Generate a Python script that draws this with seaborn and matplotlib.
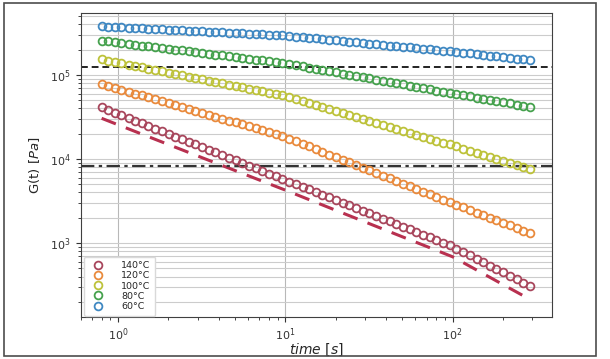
import pandas as pd
import matplotlib
matplotlib.use("Agg")
import matplotlib.pyplot as plt
import seaborn as sns
from matplotlib.patches import Rectangle

# time axis of the relaxation test [s]
time_s = [0.80, 0.877, 0.962, 1.05, 1.16, 1.27, 1.39, 1.52, 1.67, 1.83, 2.01, 2.20, 2.42,
          2.65, 2.90, 3.18, 3.49, 3.83, 4.20, 4.60, 5.05, 5.53, 6.07, 6.65, 7.30, 8.00,
          8.77, 9.62, 10.5, 11.6, 12.7, 13.9, 15.2, 16.7, 18.3, 20.1, 22.0, 24.2, 26.5,
          29.0, 31.8, 34.9, 38.3, 42.0, 46.0, 50.5, 55.3, 60.7, 66.5, 73.0, 80.0,
          87.7, 96.2, 105, 116, 127, 139, 152, 167, 183, 201, 220, 242, 265, 290]

# G(t) in kPa, one list per temperature
g_140 = [41.2, 38.3, 35.6, 33.1, 30.8, 28.7, 26.7, 24.8, 23.0, 21.4, 19.9, 18.5, 17.2,
         16.0, 14.9, 13.9, 12.9, 12.0, 11.1, 10.4, 9.65, 8.97, 8.34, 7.76, 7.21, 6.71,
         6.24, 5.80, 5.39, 5.01, 4.66, 4.34, 4.03, 3.75, 3.49, 3.24, 3.02, 2.81, 2.61,
         2.43, 2.26, 2.10, 1.95, 1.81, 1.69, 1.57, 1.46, 1.36, 1.26, 1.17, 1.09,
         1.01, 0.941, 0.857, 0.781, 0.712, 0.648, 0.591, 0.538, 0.490, 0.447, 0.407,
         0.371, 0.338, 0.308]
g_120 = [78.2, 74.2, 70.4, 66.8, 63.4, 60.1, 57.0, 54.1, 51.3, 48.7, 46.2, 43.8, 41.6,
         39.4, 37.4, 35.5, 33.7, 31.9, 30.3, 28.7, 27.3, 25.9, 24.5, 23.3, 22.1, 20.9,
         19.9, 18.9, 17.5, 16.3, 15.2, 14.1, 13.1, 12.2, 11.3, 10.5, 9.78, 9.10, 8.46,
         7.87, 7.31, 6.80, 6.33, 5.88, 5.47, 5.09, 4.73, 4.40, 4.09, 3.80, 3.54,
         3.29, 3.06, 2.85, 2.66, 2.47, 2.30, 2.15, 2.00, 1.86, 1.73, 1.62, 1.51, 1.40, 1.31]
g_100 = [153.8, 148.3, 142.9, 137.8, 132.8, 128.0, 123.4, 119.0, 114.7, 110.6, 106.6,
         102.7, 99.0, 95.5, 92.0, 88.7, 85.5, 82.4, 79.5, 76.6, 73.8, 71.2, 68.6, 66.1,
         63.8, 61.5, 59.2, 57.1, 54.1, 51.3, 48.6, 46.1, 43.6, 41.4, 39.2, 37.1, 35.2,
         33.4, 31.6, 30.0, 28.4, 26.9, 25.5, 24.2, 22.9, 21.7, 20.6, 19.5, 18.5, 17.5,
         16.6, 15.7, 14.9, 14.1, 13.3, 12.5, 11.9, 11.2, 10.6, 10.0, 9.44, 8.91, 8.42,
         7.95, 7.51]
g_80 = [256.0, 250.3, 244.7, 239.3, 234.0, 228.8, 223.7, 218.7, 213.8, 209.1, 204.4,
        199.9, 195.4, 191.1, 186.8, 182.7, 178.6, 174.6, 170.8, 167.0, 163.2, 159.6,
        156.1, 152.6, 149.2, 145.9, 142.6, 139.5, 134.9, 130.6, 126.3, 122.2, 118.3,
        114.4, 110.7, 107.1, 103.6, 100.3, 97.0, 93.9, 90.8, 87.9, 85.0, 82.3, 79.6,
        77.0, 74.5, 72.1, 69.8, 67.5, 65.3, 63.2, 61.1, 59.2, 57.4, 55.6, 53.8, 52.2,
        50.5, 49.0, 47.4, 46.0, 44.5, 43.1, 41.8]
g_60 = [380.0, 376.5, 373.0, 369.6, 366.2, 362.9, 359.5, 356.2, 353.0, 349.7, 346.5,
        343.3, 340.2, 337.0, 333.9, 330.9, 327.8, 324.8, 321.8, 318.9, 315.9, 313.0,
        310.2, 307.3, 304.5, 301.7, 298.9, 296.2, 291.1, 286.0, 281.0, 276.2, 271.4,
        266.7, 262.1, 257.5, 253.0, 248.7, 244.4, 240.1, 235.9, 231.8, 227.8, 223.9,
        220.0, 216.2, 212.4, 208.7, 205.1, 201.6, 198.1, 194.6, 191.3, 187.5, 183.9,
        180.3, 176.7, 173.3, 169.9, 166.5, 163.3, 160.1, 156.9, 153.9, 150.8]

# model curve drawn as red dashed line (kPa)
fit_time = [0.80, 1.0, 2.0, 5.0, 10.0, 20.0, 50.0, 100.0, 150.0, 200.0, 290.0]
fit_140 = [30.5, 25.6, 14.9, 7.31, 4.27, 2.46, 1.19, 0.687, 0.441, 0.321, 0.214]

# reference levels [Pa]
level_dashed = 1.26e5
level_dashdot = 8.3e3

labels = ["140°C", "120°C", "100°C", "80°C", "60°C"]
colors = ["#a8465c", "#e98a3c", "#bdc23a", "#45a14d", "#3f88c2"]
series = [g_140, g_120, g_100, g_80, g_60]

sns.set_style("ticks")
plt.rcParams["font.family"] = ["DejaVu Sans"]

fig = plt.figure(figsize=(6.10, 3.59), dpi=100)
ax = fig.add_axes([0.1323, 0.117, 0.7727, 0.8476])

for lab, col, g in zip(labels, colors, series):
    df = pd.DataFrame({"time": time_s, "G": [v * 1e3 for v in g]})
    sns.lineplot(data=df, x="time", y="G", ax=ax, color=col, marker="o",
                 markerfacecolor="none", markeredgecolor=col, markersize=5.6,
                 markeredgewidth=1.3, linestyle="none", label=lab, zorder=3)

fit_df = pd.DataFrame({"time": fit_time, "G": [v * 1e3 for v in fit_140]})
sns.lineplot(data=fit_df, x="time", y="G", ax=ax, color="#b8304f", lw=2.2,
             dashes=False, linestyle=(0, (5, 3.5)), zorder=2)

ax.axhline(level_dashed, color="#222222", lw=1.4, linestyle=(0, (3.5, 2)), zorder=2)
ax.axhline(level_dashdot, color="#333333", lw=1.6, linestyle=(0, (6, 2, 1.5, 2)), zorder=2)

ax.set_xscale("log")
ax.set_yscale("log")
ax.set_xlim(0.6, 393)
ax.set_ylim(132, 5.5e5)

ax.grid(which="major", axis="x", color="0.72", lw=0.8)
ax.grid(which="both", axis="y", color="0.8", lw=0.8)
ax.set_axisbelow(True)
for s in ax.spines.values():
    s.set_color("0.25")
ax.tick_params(labelsize=8, colors="0.2")
ax.tick_params(which="minor", length=2.5)

ax.set_xlabel(r"$time\ [s]$", fontsize=10, labelpad=-1)
ax.set_ylabel(r"G(t) [$Pa$]", fontsize=9.5, labelpad=6)

handles, lbls = ax.get_legend_handles_labels()
ax.legend(handles[:5], lbls[:5], loc="lower left", fontsize=6.8, frameon=True,
          handletextpad=1.6, borderpad=0.5, labelspacing=0.12, handlelength=1.8,
          borderaxespad=0.15, bbox_to_anchor=(0.005, 0.0),
          edgecolor="0.85", fancybox=True, framealpha=1)

fig.add_artist(Rectangle((0.007, 0.008), 0.970, 0.983, transform=fig.transFigure,
                         fill=False, edgecolor="0.3", lw=1.2))

fig.savefig("out.png", dpi=100)
